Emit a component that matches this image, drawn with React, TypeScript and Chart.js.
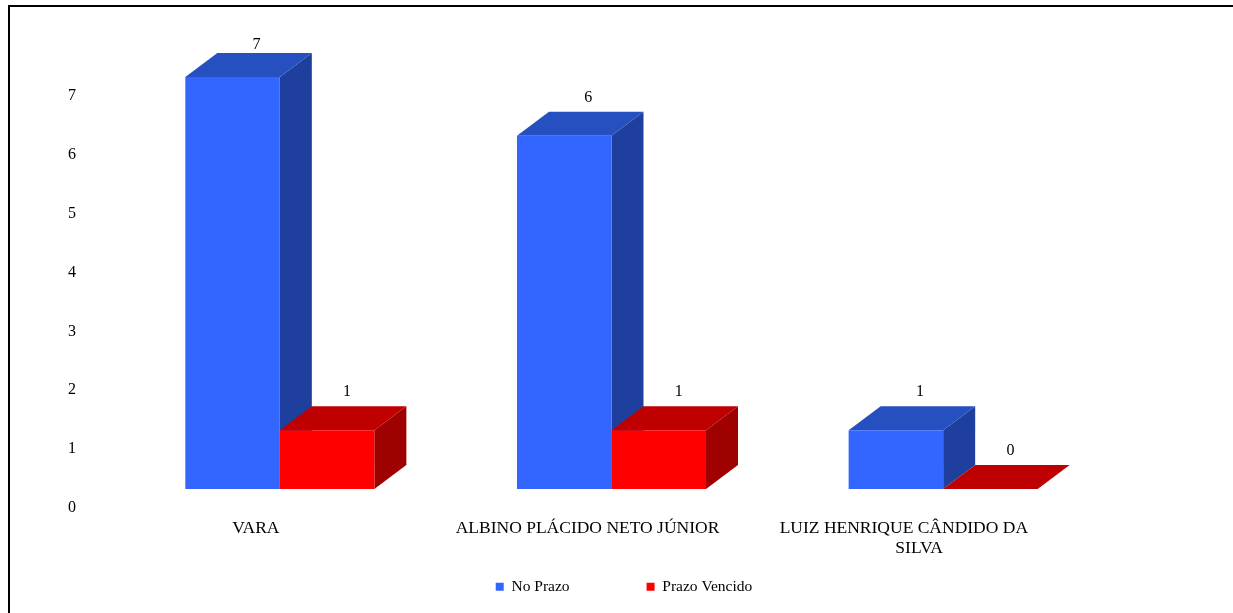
import React, { useEffect, useRef } from "react";
import { Chart, registerables } from "chart.js";

Chart.register(...registerables);

const categories: (string | string[])[] = [
  "VARA",
  "ALBINO PLÁCIDO NETO JÚNIOR",
  ["LUIZ HENRIQUE CÂNDIDO DA\u00a0\u00a0\u00a0\u00a0\u00a0\u00a0\u00a0", "SILVA"],
];
const noPrazo = [7, 6, 1];
const prazoVencido = [1, 1, 0];
const seriesNames = ["No Prazo", "Prazo Vencido"];

const FONT = "'Liberation Serif', 'Times New Roman', serif";
const DX = 32;
const DY = 24;
const LABEL_SHIFT = [24, 20];
const LABEL_GAP = 14;
const LABEL_MIN_Y = 45;

const faces: Record<string, { side: string; top: string }> = {
  "#3366ff": { side: "#1f3f9f", top: "#264fbf" },
  "#ff0000": { side: "#9f0000", top: "#bf0000" },
};

const poly = (ctx: CanvasRenderingContext2D, pts: number[][], fill: string) => {
  ctx.beginPath();
  pts.forEach(([x, y], i) => (i ? ctx.lineTo(x, y) : ctx.moveTo(x, y)));
  ctx.closePath();
  ctx.fillStyle = fill;
  ctx.fill();
};

const frame3d = {
  id: "frame3d",
  afterUpdate(chart: any) {
    const legend = chart.legend;
    if (legend) {
      legend.left = 324;
      legend.right = 924;
      legend.top = 502;
      legend.bottom = 613;
    }
  },
  beforeDraw(chart: Chart) {
    const { ctx, width, height } = chart;
    ctx.save();
    ctx.fillStyle = "#ffffff";
    ctx.fillRect(0, 0, width, height);
    ctx.strokeStyle = "#000000";
    ctx.lineWidth = 2;
    ctx.beginPath();
    ctx.moveTo(9, height);
    ctx.lineTo(9, 6);
    ctx.lineTo(width, 6);
    ctx.stroke();
    ctx.restore();
  },
  // Depth faces are drawn behind the front faces, using each bar element's own geometry.
  beforeDatasetsDraw(chart: Chart) {
    const { ctx } = chart;
    ctx.save();
    chart.data.datasets.forEach((ds, di) => {
      const colour = ds.backgroundColor as string;
      chart.getDatasetMeta(di).data.forEach((el: any) => {
        const { x, y, base, width } = el.getProps(["x", "y", "base", "width"], true);
        const l = x - width / 2;
        const r = x + width / 2;
        poly(ctx, [[r, y], [r + DX, y - DY], [r + DX, base - DY], [r, base]], faces[colour].side);
        poly(ctx, [[l, y], [l + DX, y - DY], [r + DX, y - DY], [r, y]], faces[colour].top);
      });
    });
    ctx.restore();
  },
  afterDatasetsDraw(chart: Chart) {
    const { ctx } = chart;
    ctx.save();
    ctx.font = `16px ${FONT}`;
    ctx.fillStyle = "#000000";
    ctx.textAlign = "center";
    ctx.textBaseline = "middle";
    chart.data.datasets.forEach((ds, di) => {
      chart.getDatasetMeta(di).data.forEach((el: any, i: number) => {
        const { x, y } = el.getProps(["x", "y"], true);
        ctx.fillText(String(ds.data[i]), x + LABEL_SHIFT[di], Math.max(LABEL_MIN_Y, y - DY - LABEL_GAP));
      });
    });
    ctx.restore();
  },
};

export default function App() {
  const ref = useRef<HTMLCanvasElement>(null);
  useEffect(() => {
    document.body.style.margin = "0";
    const chart = new Chart(ref.current!, {
      type: "bar",
      data: {
        labels: categories,
        datasets: [
          { label: seriesNames[0], data: noPrazo, backgroundColor: "#3366ff", borderWidth: 0 },
          { label: seriesNames[1], data: prazoVencido, backgroundColor: "#ff0000", borderWidth: 0 },
        ],
      },
      options: {
        responsive: false,
        animation: false,
        layout: { padding: { left: 17, right: 124, top: 77, bottom: 24 } },
        plugins: {
          title: { display: false },
          tooltip: { enabled: false },
          legend: {
            position: "bottom",
            maxHeight: 10,
            labels: {
              boxWidth: 8,
              boxHeight: 8,
              padding: 77,
              color: "#000000",
              font: { family: FONT, size: 15.5 },
            },
          },
        },
        datasets: { bar: { categoryPercentage: 0.57, barPercentage: 1 } },
        scales: {
          x: {
            afterFit(scale: any) {
              scale.height = 90;
            },
            grid: { display: false, drawTicks: false },
            border: { display: false },
            ticks: {
              color: "#000000",
              font: { family: FONT, size: 17.5, lineHeight: 1.15 },
              maxRotation: 0,
              autoSkip: false,
              labelOffset: -24,
              padding: 29,
            },
          },
          y: {
            min: 0,
            max: 7,
            afterFit(scale: any) {
              scale.width = 97;
            },
            grid: { display: false, drawTicks: false },
            border: { display: false },
            ticks: {
              stepSize: 1,
              color: "#000000",
              font: { family: FONT, size: 16 },
              labelOffset: 19,
              padding: 38,
            },
          },
        },
      },
      plugins: [frame3d],
    } as any);
    return () => chart.destroy();
  }, []);
  return <canvas ref={ref} width={1233} height={613} style={{ display: "block" }} />;
}
